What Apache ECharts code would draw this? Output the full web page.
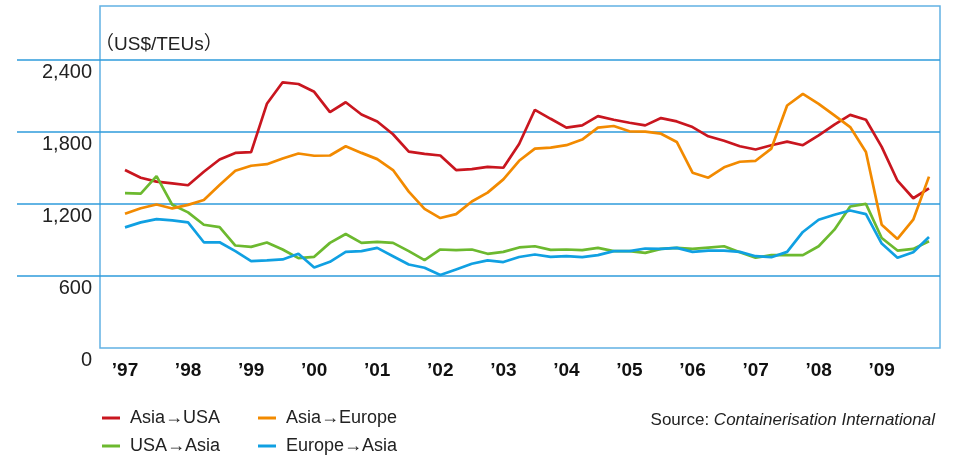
<!DOCTYPE html>
<html>
<head>
<meta charset="utf-8" />
<title>Freight rates</title>
<script type="text/javascript" src="https://cdn.jsdelivr.net/npm/echarts@6/dist/echarts.min.js"></script>
<style>
	body { margin: 0; background: #fff; }
</style>
</head>
<body>
	<div id="chartmain" style="width: 955px; height: 457px;"></div>
	<script type="text/javascript">
		// 年份标签（每年4个季度）
		var years = [ '’97', '’98', '’99', '’00', '’01', '’02', '’03', '’04', '’05', '’06', '’07', '’08', '’09' ];
		var quarters = [ 'Q1', 'Q2', 'Q3', 'Q4' ];
		var yTicks = [ 0, 600, 1200, 1800, 2400 ];

		// 各航线运价 (US$/TEU)，按季度读取
		var asiaUsa = [ 1483, 1419, 1386, 1372, 1356, 1469, 1571, 1626, 1632, 2035, 2214, 2200, 2135,
			1966, 2048, 1946, 1888, 1781, 1637, 1618, 1604, 1483, 1491, 1510, 1502, 1700,
			1985, 1910, 1836, 1855, 1932, 1902, 1877, 1855, 1916, 1888, 1841, 1764, 1727,
			1681, 1654, 1690, 1720, 1690, 1772, 1861, 1943, 1902, 1676, 1394, 1248, 1331 ];
		var asiaEurope = [ 1118, 1165, 1196, 1163, 1193, 1234, 1359, 1477, 1519, 1532, 1579, 1621, 1602,
			1604, 1681, 1626, 1574, 1483, 1303, 1160, 1083, 1116, 1221, 1295, 1405, 1560,
			1662, 1670, 1690, 1737, 1836, 1850, 1806, 1803, 1786, 1717, 1461, 1419, 1506,
			1552, 1560, 1662, 2021, 2117, 2035, 1938, 1841, 1634, 1027, 909, 1069, 1428 ];
		var usaAsia = [ 1290, 1287, 1433, 1193, 1130, 1027, 1008, 854, 843, 879, 821, 749, 760,
			876, 950, 876, 884, 876, 807, 732, 821, 815, 821, 785, 801, 838,
			848, 818, 821, 815, 834, 807, 807, 793, 826, 834, 826, 837, 848,
			798, 752, 774, 774, 774, 848, 986, 1179, 1201, 917, 812, 826, 890 ];
		var europeAsia = [ 1005, 1047, 1074, 1063, 1047, 881, 881, 807, 724, 730, 738, 785, 671,
			718, 801, 807, 834, 765, 696, 669, 608, 655, 702, 730, 716, 758,
			779, 760, 765, 757, 774, 807, 807, 829, 826, 834, 801, 812, 812,
			801, 765, 757, 801, 967, 1069, 1110, 1146, 1116, 870, 752, 798, 925 ];

		var categories = [];
		years.forEach(function(y) {
			quarters.forEach(function(q) {
				categories.push(y + ' ' + q);
			});
		});

		var font = '"Liberation Sans", Arial, Helvetica, sans-serif';
		var gridBlue = '#2e9bdb';
		var frameBlue = '#62b1e4';

		// 每个图例项单独放置（2行2列）
		function legendItem(name, left, top) {
			return {
				left : left,
				top : top,
				icon : 'rect',
				itemWidth : 18,
				itemHeight : 3,
				textStyle : { fontSize : 18, color : '#222', padding : [ 0, 0, 0, 5 ] },
				data : [ name ]
			};
		}

		var option = {
			animation : false,
			textStyle : {
				fontFamily : font
			},
			title : [ {
				text : '（US$/TEUs）',
				left : 90,
				top : 30,
				textStyle : {
					fontFamily : '"Liberation Sans", "Noto Sans CJK JP", sans-serif',
					fontSize : 19,
					fontWeight : 'normal',
					color : '#222'
				}
			}, {
				text : '{a|Source: }{b|Containerisation International}',
				right : 15,
				top : 407,
				textStyle : {
					fontWeight : 'normal',
					rich : {
						a : { fontFamily : font, fontSize : 17, fontWeight : 'normal', color : '#222' },
						b : { fontFamily : font, fontSize : 17, fontWeight : 'normal', fontStyle : 'italic', color : '#222' }
					}
				}
			} ],
			legend : [
				legendItem('Asia→USA', 97, 404),
				legendItem('Asia→Europe', 253, 404),
				legendItem('USA→Asia', 97, 432),
				legendItem('Europe→Asia', 253, 432)
			],
			grid : [
				// 向左延伸的网格线
				{ left : 17, right : 15, top : 60, bottom : 181 },
				// 外框 + Y轴标签
				{ left : 100, right : 15, top : 6, bottom : 109, show : true, borderColor : frameBlue, borderWidth : 1.5 },
				// 数据区域
				{ left : 125, right : 26, top : 6, bottom : 109 }
			],
			xAxis : [ {
				gridIndex : 0, type : 'value', show : false
			}, {
				gridIndex : 1, type : 'value', show : false
			}, {
				gridIndex : 2,
				type : 'category',
				boundaryGap : false,
				data : categories,
				axisLine : { show : false },
				axisTick : { show : false },
				axisLabel : {
					interval : 3,
					margin : 13,
					fontSize : 19,
					fontWeight : 'bold',
					color : '#111',
					formatter : function(v) { return v.split(' ')[0]; }
				}
			} ],
			yAxis : [ {
				gridIndex : 0,
				type : 'value',
				min : yTicks[1],
				max : yTicks[yTicks.length - 1],
				interval : 600,
				axisLine : { show : false },
				axisTick : { show : false },
				axisLabel : { show : false },
				splitLine : { lineStyle : { color : gridBlue, width : 1.5 } }
			}, {
				gridIndex : 1,
				type : 'value',
				min : 0,
				max : 2850,
				interval : 600,
				axisLine : { show : false },
				axisTick : { show : false },
				splitLine : { show : false },
				axisLabel : {
					margin : 8,
					fontSize : 20,
					lineHeight : 24,
					color : '#222',
					// 标签位于网格线下方：空一行
					formatter : function(v) {
						return yTicks.indexOf(v) >= 0 ? '\n' + v.toLocaleString('en-US') : '';
					}
				}
			}, {
				gridIndex : 2,
				type : 'value',
				min : 0,
				max : 2850,
				show : false
			} ],
			series : [ {
				name : 'Asia→USA',
				type : 'line',
				xAxisIndex : 2,
				yAxisIndex : 2,
				symbol : 'none',
				color : '#c9161f',
				lineStyle : { width : 2.7 },
				data : asiaUsa
			}, {
				name : 'USA→Asia',
				type : 'line',
				xAxisIndex : 2,
				yAxisIndex : 2,
				symbol : 'none',
				color : '#6cb92f',
				lineStyle : { width : 2.7 },
				data : usaAsia
			}, {
				name : 'Europe→Asia',
				type : 'line',
				xAxisIndex : 2,
				yAxisIndex : 2,
				symbol : 'none',
				color : '#10a0e2',
				lineStyle : { width : 2.7 },
				data : europeAsia
			}, {
				name : 'Asia→Europe',
				type : 'line',
				xAxisIndex : 2,
				yAxisIndex : 2,
				symbol : 'none',
				color : '#f28a00',
				lineStyle : { width : 2.7 },
				data : asiaEurope
			} ]
		};

		var myChart = echarts.init(document.getElementById('chartmain'));
		myChart.setOption(option);
	</script>
</body>
</html>
